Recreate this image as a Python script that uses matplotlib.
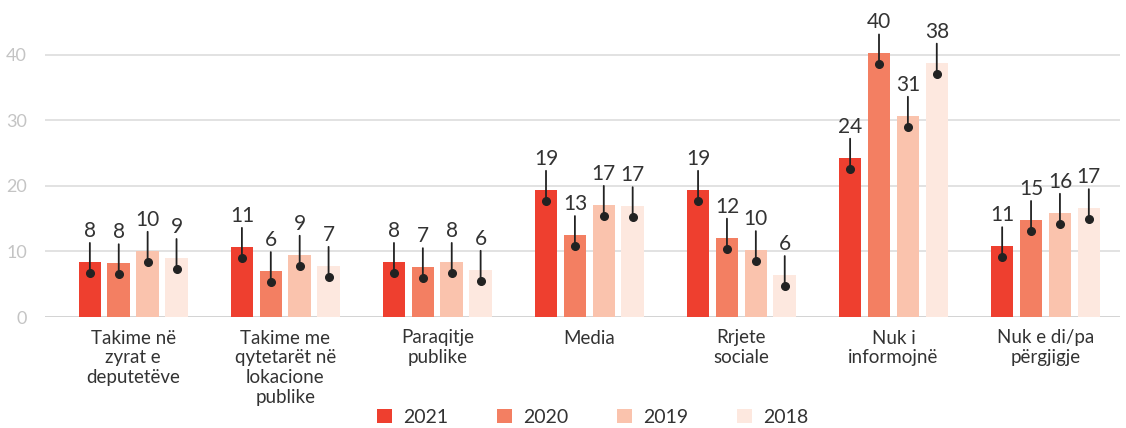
import matplotlib
matplotlib.use("Agg")
import matplotlib.pyplot as plt
import matplotlib.transforms as mtransforms
from matplotlib.patches import Patch
import numpy as np

plt.rcParams['font.family'] = ['Lato', 'DejaVu Sans']

categories = ["Takime në\nzyrat e\ndeputetëve",
              "Takime me\nqytetarët në\nlokacione\npublike",
              "Paraqitje\npublike",
              "Media",
              "Rrjete\nsociale",
              "Nuk i\ninformojnë",
              "Nuk e di/pa\npërgjigje"]
years = ["2021", "2020", "2019", "2018"]
values_2021 = [8.4, 10.7, 8.4, 19.4, 19.4, 24.3, 10.8]
values_2020 = [8.2, 7.0, 7.6, 12.5, 12.1, 40.2, 14.8]
values_2019 = [10.1, 9.5, 8.4, 17.1, 10.2, 30.7, 15.9]
values_2018 = [9.0, 7.8, 7.2, 16.9, 6.4, 38.8, 16.6]
labels_2021 = ["8", "11", "8", "19", "19", "24", "11"]
labels_2020 = ["8", "6", "7", "13", "12", "40", "15"]
labels_2019 = ["10", "9", "8", "17", "10", "31", "16"]
labels_2018 = ["9", "7", "6", "17", "6", "38", "17"]
yticks = [0, 10, 20, 30, 40]

series = [values_2021, values_2020, values_2019, values_2018]
series_labels = [labels_2021, labels_2020, labels_2019, labels_2018]
colors = ['#ee3f2f', '#f37f62', '#fac3ad', '#fde8df']

fig = plt.figure(figsize=(11.26, 4.28), dpi=100)
ax = fig.add_axes([45/1126, 111/428, (1120-45)/1126, 295/428])

x = np.arange(len(categories))
offsets = [-1.5, -0.5, 0.5, 1.5]
step = 0.19
width = 0.148

trans_down = mtransforms.offset_copy(ax.transData, fig=fig, x=0, y=-11, units='dots')
trans_up = mtransforms.offset_copy(ax.transData, fig=fig, x=0, y=19, units='dots')

for vals, labs, col, off in zip(series, series_labels, colors, offsets):
    xs = x + off * step
    ax.bar(xs, vals, width=width, color=col, zorder=2)
    for xi, v, lab in zip(xs, vals, labs):
        ax.annotate('', xy=(xi, v), xycoords=trans_down, xytext=(xi, v), textcoords=trans_up,
                    arrowprops=dict(arrowstyle='-', lw=1.3, color='#222222', shrinkA=0, shrinkB=0),
                    zorder=3)
        ax.plot([xi], [v], 'o', color='#222222', markersize=5.5, transform=trans_down, zorder=4)
        ax.annotate(lab, xy=(xi, v), xytext=(0, 21), textcoords='offset pixels',
                    ha='center', va='bottom', fontsize=15, color='#333333', zorder=4)

ax.set_ylim(0, 45)
ax.set_xlim(-0.58, 6.49)
ax.set_yticks(yticks)
ax.set_yticklabels([str(t) for t in yticks], fontsize=13, color='#c4c4c4')
ax.tick_params(axis='y', length=0, pad=13)
ax.tick_params(axis='x', length=0, pad=9)
ax.set_xticks(x)
ax.set_xticklabels(categories, fontsize=13.5, color='#333333', linespacing=1.2, va='top')
for t in yticks:
    ax.axhline(t, color='#cccccc' if t == 0 else '#dddddd', lw=1.2, zorder=1)
for s in ax.spines.values():
    s.set_visible(False)

handles = [Patch(facecolor=c, edgecolor='none') for c in colors]
fig.legend(handles, years, loc='center', bbox_to_anchor=(593/1126, 0.025), ncol=4, frameon=False,
           fontsize=14, handlelength=0.75, handleheight=0.75, columnspacing=2.5, handletextpad=0.6,
           labelcolor='#333333')

fig.savefig('out.png', dpi=100)
